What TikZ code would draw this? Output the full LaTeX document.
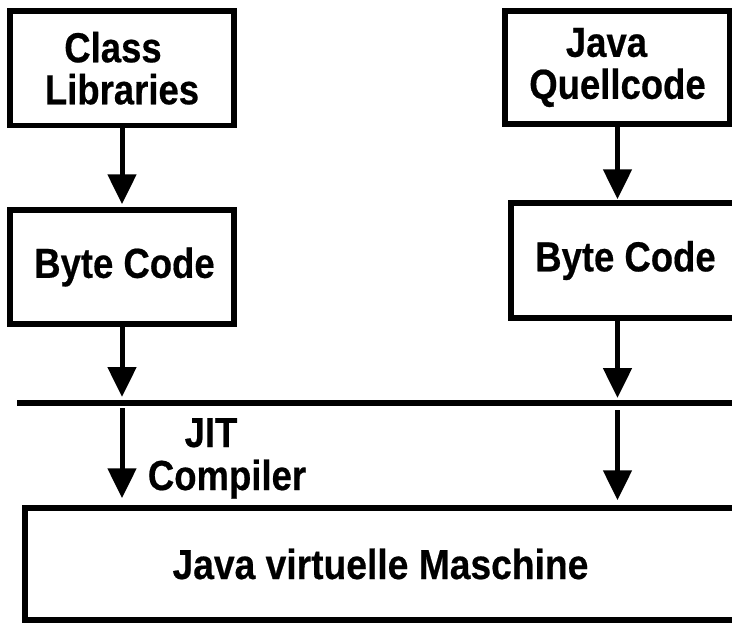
\documentclass[tikz,border=0pt]{standalone}
\usepackage{fontspec}
\usepackage{graphicx}
\setmainfont[BoldFeatures={FakeBold=0.5}]{Liberation Sans}
\usetikzlibrary{arrows.meta}
\newcommand\tx[1]{\scalebox{1}[1.15]{#1}}
\begin{document}
\begin{tikzpicture}[x=1pt,y=-1pt,
  box/.style={draw, line width=5.5pt, font=\bfseries\fontsize{36.5}{42}\selectfont, align=center, inner sep=0pt},
  lbl/.style={font=\bfseries\fontsize{36.5}{42}\selectfont, inner sep=0pt},
  arr/.style={line width=5pt, -{Triangle[width=28pt,length=30pt]}},
  bar/.style={line width=5.5pt}]
\useasboundingbox (0,0) rectangle (732,624);
\clip (0,0) rectangle (732,624);
% boxes
\node[box, minimum width=224pt, minimum height=114.5pt] (cl) at (122,68.25) {\tx{Class}\hspace*{18pt}\\\tx{Libraries}};
\node[box, minimum width=224pt, minimum height=114pt] (bc1) at (122,267) {\hspace*{5pt}\tx{Byte Code}};
\node[box, minimum width=225pt, minimum height=113pt] (jq) at (617.5,67.5) {\tx{Java}\hspace*{22pt}\\\tx{Quellcode}};
\node[box, minimum width=229pt, minimum height=115pt] (bc2) at (625.5,260.5) {\tx{Byte Code}};
\node[box, minimum width=711pt, minimum height=112pt] (jvm) at (380.5,564) {\scalebox{1.02}[1.15]{Java virtuelle Maschine}};
% horizontal line
\coordinate (lineL) at (17,403);
\coordinate (lineR) at (745,403);
\draw[bar] (lineL) -- (lineR);
% left column arrows
\draw[arr, shorten >=3pt] (cl.south) -- (bc1.north);
\draw[arr, shorten >=6pt] (bc1.south) -- (bc1.south |- lineL);
\draw[arr, shorten <=5pt, shorten >=7pt] (bc1.south |- lineL) -- (bc1.south |- jvm.north);
% right column arrows
\draw[arr, shorten >=1pt] (jq.south) -- (jq.south |- bc2.north);
\draw[arr, shorten >=5pt] (jq.south |- bc2.south) -- (jq.south |- lineL);
\draw[arr, shorten <=7pt, shorten >=5pt] (jq.south |- lineL) -- (jq.south |- jvm.north);
% JIT label
\node[lbl, anchor=base] (jit) at (211,447) {\tx{JIT}};
\node[lbl, anchor=base] (comp) at (227,490) {\tx{Compiler}};
\end{tikzpicture}
\end{document}
